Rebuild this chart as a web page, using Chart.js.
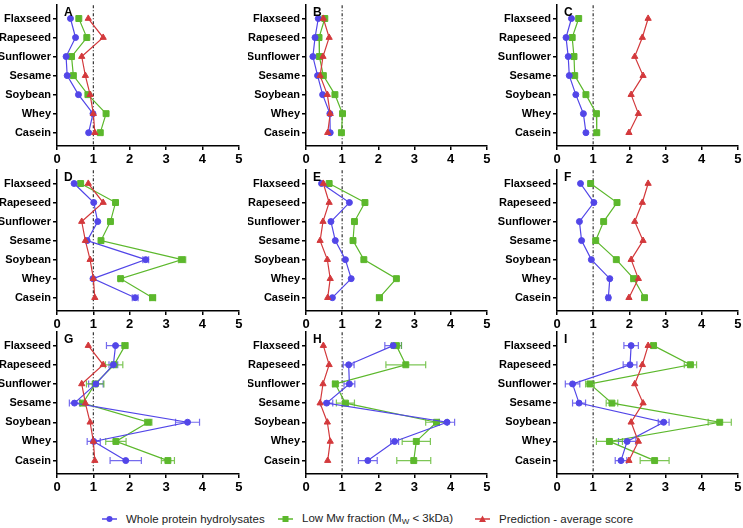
<!DOCTYPE html>
<html><head><meta charset="utf-8">
<script src="https://cdn.jsdelivr.net/npm/chart.js@4.4.0/dist/chart.umd.min.js"></script>
<style>
html,body{margin:0;padding:0;background:#fff;width:743px;height:528px;overflow:hidden;position:relative;font-family:"Liberation Sans",Arial,sans-serif;}
canvas{position:absolute;}
.leg{position:absolute;top:511px;font-size:11.5px;color:#222;white-space:nowrap;display:flex;align-items:center;height:16px;}
.leg svg{margin-right:9px;}
sub{font-size:8px;vertical-align:-2px;}
</style></head><body>
<div id="legend"></div>
<script>
// ---------- DATA ----------
const categories = ['Flaxseed','Rapeseed','Sunflower','Sesame','Soybean','Whey','Casein'];
const xTicks = [0,1,2,3,4,5];
const panelLetters = ['A','B','C','D','E','F','G','H','I'];
const seriesNames = ['Whole protein hydrolysates','Low Mw fraction (M<sub>W</sub> < 3kDa)','Prediction - average score'];

// Prediction - average score (same in each column)
const predCol1 = [0.86,1.27,0.68,0.78,0.91,1.00,1.04];
const predCol2 = [0.48,0.64,0.47,0.39,0.59,0.67,0.60];
const predCol3 = [2.52,2.36,2.15,2.38,2.05,2.25,1.99];

// Whole protein hydrolysates
const wholeA = [0.37,0.51,0.25,0.28,0.59,0.99,0.87];
const wholeB = [0.34,0.25,0.19,0.32,0.46,0.66,0.67];
const wholeC = [0.40,0.25,0.31,0.34,0.52,0.73,0.80];
const wholeD = [0.47,1.01,1.12,0.83,2.44,0.99,2.15];
const wholeE = [0.43,1.20,0.69,0.81,1.09,1.25,0.73];
const wholeF = [0.65,1.02,0.62,0.68,0.95,1.46,1.42];
const wholeG = [1.61,1.55,1.07,0.48,3.59,1.01,1.89];
const wholeH = [2.41,1.18,1.20,0.57,3.90,2.45,1.71];
const wholeI = [2.05,2.02,0.43,0.61,2.95,1.94,1.77];

// Low Mw fraction
const lowA = [0.60,0.82,0.40,0.45,0.85,1.35,1.19];
const lowB = [0.52,0.36,0.37,0.48,0.80,1.01,0.98];
const lowC = [0.60,0.42,0.47,0.49,0.80,1.09,1.10];
const lowD = [0.65,1.61,1.47,1.21,3.44,1.75,2.63];
const lowE = [0.64,1.63,1.34,1.30,1.60,2.50,2.03];
const lowF = [0.93,1.66,1.29,1.07,1.64,2.12,2.42];
const lowG = [1.87,1.57,1.05,0.71,2.51,1.62,3.05];
const lowH = [2.50,2.76,0.81,1.09,3.61,3.05,2.98];
const lowI = [2.67,3.69,0.91,1.52,4.50,1.45,2.70];

// Error bars (half-widths)
const zeroErr = [0,0,0,0,0,0,0];
const wholeErrD = [0,0,0,0,0.08,0,0.08];
const lowErrD = [0,0,0,0,0.10,0.05,0.08];
const lowErrE = [0,0,0.05,0.05,0,0,0.08];
const wholeErrF = [0,0,0,0,0,0,0.05];
const lowErrF = [0,0,0,0,0,0.07,0];
const wholeErrG = [0.25,0.12,0.20,0.14,0.33,0.18,0.43];
const lowErrG = [0.08,0.24,0.24,0.07,0.10,0.28,0.18];
const wholeErrH = [0.23,0.15,0.15,0.17,0.21,0.11,0.26];
const lowErrH = [0.14,0.55,0.07,0.25,0.30,0.39,0.47];
const wholeErrI = [0.20,0.19,0.20,0.18,0.15,0.24,0.16];
const lowErrI = [0.06,0.17,0.12,0.16,0.32,0.36,0.40];

const panelWhole = [wholeA,wholeB,wholeC,wholeD,wholeE,wholeF,wholeG,wholeH,wholeI];
const panelLow = [lowA,lowB,lowC,lowD,lowE,lowF,lowG,lowH,lowI];
const panelPred = [predCol1,predCol2,predCol3,predCol1,predCol2,predCol3,predCol1,predCol2,predCol3];
const panelWholeErr = [zeroErr,zeroErr,zeroErr,wholeErrD,zeroErr,wholeErrF,wholeErrG,wholeErrH,wholeErrI];
const panelLowErr = [zeroErr,zeroErr,zeroErr,lowErrD,lowErrE,lowErrF,lowErrG,lowErrH,lowErrI];

// ---------- STYLE / LAYOUT ----------
const COL = {blue:'#5246e8', green:'#5cb82c', red:'#d3393c'};
const ERRCOL = {blue:'rgba(82,70,232,0.8)', green:'rgba(92,184,44,0.8)'};
const FONT = '"Liberation Sans", Arial, sans-serif';
const colLeft = [0,248,495], plotLeft = [57,306,557], plotRight = [241,489,740];
const rowTop = [3,168,330], rowBottom = [146,311,474];
const PADR = 3, PADT = 3, XH = 21;

const overlay = {
  id:'overlay',
  beforeDatasetsDraw(chart){
    const {ctx, chartArea:a, scales:{x,y}} = chart;
    const px = x.getPixelForValue(1);
    ctx.save(); ctx.strokeStyle='#333'; ctx.lineWidth=1.2; ctx.setLineDash([3,2,1,2]);
    ctx.beginPath(); ctx.moveTo(px,a.top); ctx.lineTo(px,a.bottom); ctx.stroke(); ctx.restore();
    chart.data.datasets.forEach(ds=>{
      if(!ds.errors) return;
      ctx.save(); ctx.strokeStyle=ds.errColor; ctx.lineWidth=1.2;
      ds.data.forEach((p,i)=>{
        const e = ds.errors[i]; if(!e) return;
        const x0=x.getPixelForValue(p.x-e), x1=x.getPixelForValue(p.x+e), py=y.getPixelForValue(p.y);
        ctx.beginPath(); ctx.moveTo(x0,py); ctx.lineTo(x1,py);
        ctx.moveTo(x0,py-3.5); ctx.lineTo(x0,py+3.5);
        ctx.moveTo(x1,py-3.5); ctx.lineTo(x1,py+3.5);
        ctx.stroke();
      });
      ctx.restore();
    });
  },
  afterDraw(chart, args, opts){
    const {ctx, chartArea:a} = chart;
    ctx.save(); ctx.fillStyle='#000'; ctx.font='bold 12px '+FONT; ctx.textBaseline='top';
    ctx.fillText(opts.letter, a.left+7, a.top+1); ctx.restore();
  }
};

function pts(vals){ return categories.map((c,i)=>({x:vals[i], y:i})); }

for(let p=0;p<9;p++){
  const r = Math.floor(p/3), c = p%3;
  const cv = document.createElement('canvas');
  const left = colLeft[c], top = rowTop[r]-PADT;
  const w = plotRight[c]+PADR-left, h = rowBottom[r]+XH-top;
  cv.width = w; cv.height = h;
  cv.style.left = left+'px'; cv.style.top = top+'px';
  cv.style.width = w+'px'; cv.style.height = h+'px';
  document.body.appendChild(cv);
  const yw = plotLeft[c]-left;
  new Chart(cv, {
    type:'scatter',
    data:{datasets:[
      {label:'whole', data:pts(panelWhole[p]), errors:panelWholeErr[p], errColor:ERRCOL.blue,
       borderColor:COL.blue, backgroundColor:COL.blue, pointStyle:'circle', pointRadius:3, order:1},
      {label:'low', data:pts(panelLow[p]), errors:panelLowErr[p], errColor:ERRCOL.green,
       borderColor:COL.green, backgroundColor:COL.green, pointStyle:'rect', pointRadius:4.2, order:2},
      {label:'pred', data:pts(panelPred[p]),
       borderColor:COL.red, backgroundColor:COL.red, pointStyle:'triangle', pointRadius:3.6, order:0}
    ].map(d=>Object.assign(d,{showLine:true, borderWidth:1.2, pointBorderWidth:1, tension:0}))},
    options:{
      responsive:false, animation:false, devicePixelRatio:1,
      layout:{padding:{left:0,right:PADR,top:PADT,bottom:0}},
      plugins:{legend:{display:false}, tooltip:{enabled:false}, overlay:{letter:panelLetters[p]}},
      scales:{
        x:{type:'linear', min:0, max:5,
          afterBuildTicks:s=>{ s.ticks = xTicks.map(v=>({value:v})); },
          afterFit:s=>{ s.height=XH; s.paddingLeft=0; s.paddingRight=0; },
          border:{color:'#000', width:1.5},
          grid:{drawOnChartArea:false, color:'#000', lineWidth:1.5, tickLength:4},
          ticks:{color:'#000', padding:2, font:{family:FONT, size:13, weight:'bold'}, maxRotation:0, autoSkip:false}},
        y:{type:'linear', min:-0.7, max:6.7, reverse:true,
          afterBuildTicks:s=>{ s.ticks = categories.map((c,i)=>({value:i})); },
          afterFit:s=>{ s.width=yw; s.paddingTop=0; s.paddingBottom=0; },
          border:{color:'#000', width:1.5},
          grid:{drawOnChartArea:false, color:'#000', lineWidth:1.5, tickLength:4},
          ticks:{color:'#000', padding:2, autoSkip:false, font:{family:FONT, size:11, weight:'bold'},
            callback:v=>categories[v] ?? ''}}
      }
    },
    plugins:[overlay]
  });
}

// ---------- LEGEND ----------
const legLeft = [102,278,475];
const legStyle = ['circle','rect','triangle'];
const legColor = [COL.blue, COL.green, COL.red];
const legend = document.getElementById('legend');
seriesNames.forEach((name,i)=>{
  const d = document.createElement('div'); d.className='leg'; d.style.left=legLeft[i]+'px';
  const col = legColor[i];
  let mark = '';
  if(legStyle[i]==='circle') mark = `<circle cx="7.5" cy="8" r="3" fill="${col}"/>`;
  else if(legStyle[i]==='rect') mark = `<rect x="4.5" y="5" width="6" height="6" fill="${col}"/>`;
  else mark = `<polygon points="7.5,4.5 11,11 4,11" fill="${col}"/>`;
  d.innerHTML = `<svg width="15" height="16"><line x1="0" y1="8" x2="15" y2="8" stroke="${col}" stroke-width="1.5"/>${mark}</svg><span>${name.replace(' < ',' &lt; ')}</span>`;
  legend.appendChild(d);
});
</script>
</body></html>
